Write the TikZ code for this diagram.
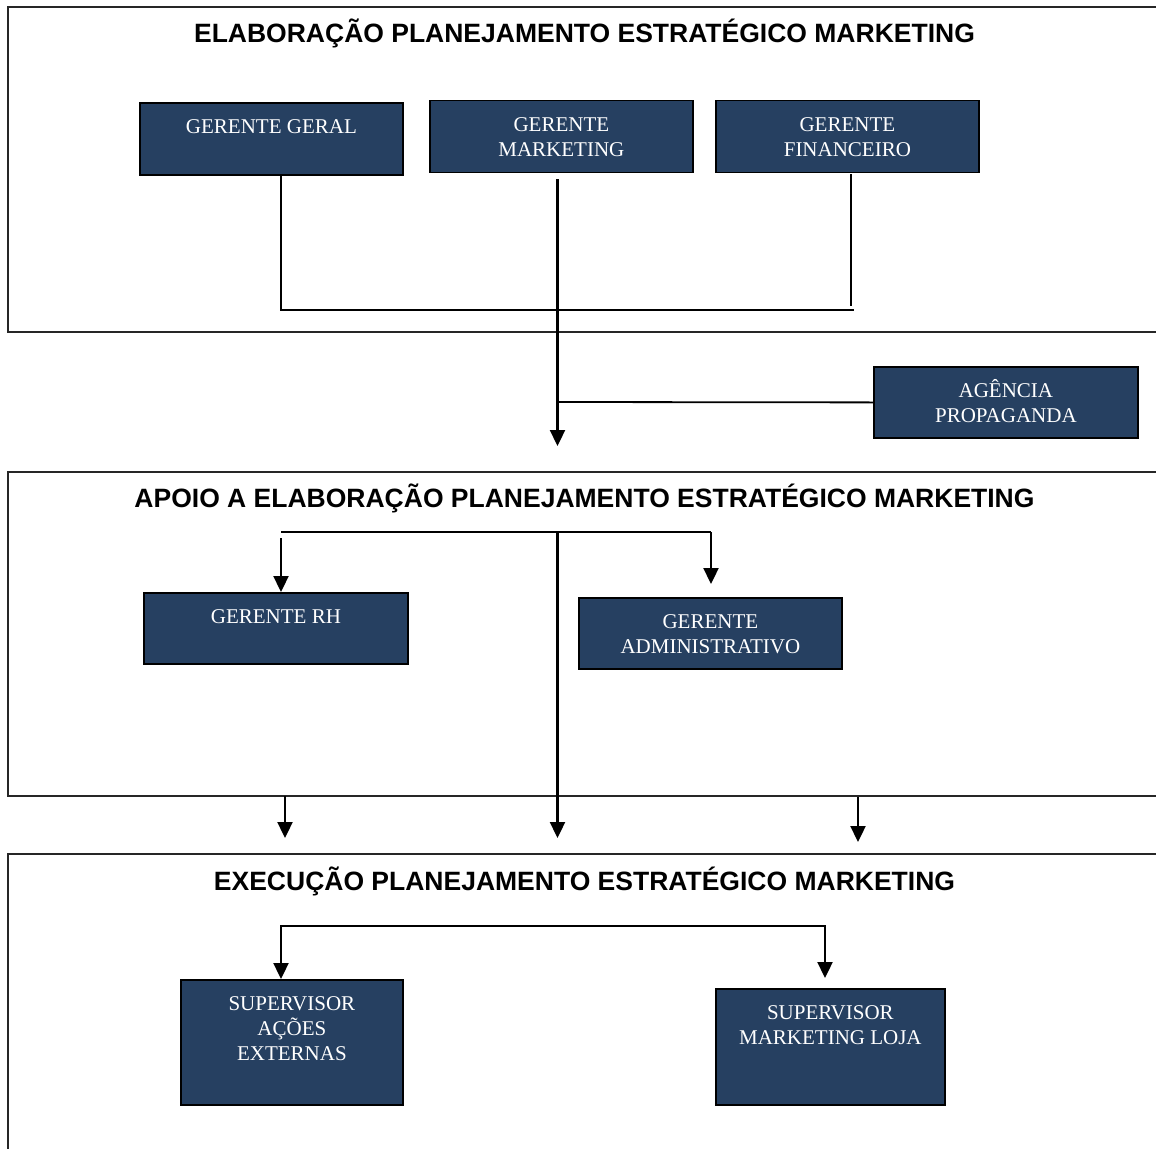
\documentclass[tikz,border=0pt]{standalone}
\usepackage{fontspec}
\setmainfont{Liberation Serif}
\newfontfamily\titlefont{Liberation Sans}
\usetikzlibrary{arrows.meta}
\definecolor{navy}{RGB}{38,64,97}
\newcommand{\boxtxt}[3]{\parbox[t][#2][t]{#1}{\centering\fontsize{21}{25}\selectfont\rule{0pt}{31pt}#3}}
\begin{document}
\begin{tikzpicture}[x=1pt,y=-1pt,
  panel/.style={draw=black!85,line width=1.7pt},
  title/.style={font={\titlefont\bfseries\fontsize{26.5}{30}\selectfont},anchor=base,inner sep=0pt},
  unit/.style={draw=black,line width=1.8pt,fill=navy,text=white,inner sep=0pt,anchor=north west},
  ln/.style={line width=1.8pt},
  arr/.style={line width=2.3pt,-{Triangle[length=16pt,width=15pt]}},
  arrtwo/.style={line width=2.3pt,{Triangle[length=16pt,width=15pt]}-{Triangle[length=16pt,width=15pt]}}]
\useasboundingbox (0,0) rectangle (1156,1148);
\fill[white] (0,0) rectangle (1156,1148);
\clip (0,0) rectangle (1156,1148);

% panels
\draw[panel] (8,7) rectangle (1170,332);
\draw[panel] (8,472) rectangle (1170,796);
\draw[panel] (8,854) rectangle (1170,1170);

% titles
\node[title] (t1) at (584.5,43) {ELABORAÇÃO PLANEJAMENTO ESTRATÉGICO MARKETING};
\node[title] (t2) at (584.5,507) {APOIO A ELABORAÇÃO PLANEJAMENTO ESTRATÉGICO MARKETING};
\node[title] (t3) at (584.5,890) {EXECUÇÃO PLANEJAMENTO ESTRATÉGICO MARKETING};

% units
\node[unit] (GG) at (139,102) {\boxtxt{263pt}{72pt}{GERENTE GERAL}};
\node[unit] (GM) at (429,99.5) {\boxtxt{263pt}{72pt}{GERENTE\\MARKETING}};
\node[unit] (GF) at (715,99.5) {\boxtxt{263pt}{72pt}{GERENTE\\FINANCEIRO}};
\node[unit] (AG) at (873,366) {\boxtxt{264pt}{71pt}{AGÊNCIA\\PROPAGANDA}};
\node[unit] (RH) at (143,592) {\boxtxt{264pt}{71pt}{GERENTE RH}};
\node[unit] (ADM) at (578,597) {\boxtxt{263pt}{71pt}{GERENTE\\ADMINISTRATIVO}};
\node[unit] (SUPA) at (180,979) {\boxtxt{222pt}{125pt}{SUPERVISOR\\AÇÕES\\EXTERNAS}};
\node[unit] (SUPL) at (715,988) {\boxtxt{229pt}{116pt}{SUPERVISOR\\MARKETING LOJA}};

% junction coordinates
\coordinate (j1L) at (281,310);
\coordinate (j1R) at (854,310);
\coordinate (fEnd) at (851,306);
\coordinate (m1) at (557.5,446);
\coordinate (agj) at (557.5,402);
\coordinate (b2L) at (281,532);
\coordinate (b2R) at (711,532);
\coordinate (rhTop) at (281,538);
\coordinate (m2Top) at (557.5,532);
\coordinate (m2) at (557.5,838);
\coordinate (dL0) at (285,796);
\coordinate (dL1) at (285,838);
\coordinate (dR0) at (858,797);
\coordinate (dR1) at (858,842);
\coordinate (k3L) at (281,926);
\coordinate (k3R) at (825,926);

% panel 1 connectors
\draw[ln] (GG.south -| j1L) -- (j1L) -- (j1R);
\draw[ln] ([yshift=-1pt]GF.south -| fEnd) -- (fEnd);
\draw[arr] ([yshift=-6pt]GM.south -| m1) -- (m1);
\draw[ln] (agj) -- (AG.west);

% panel 2 connectors
\draw[ln] (b2L) -- (b2R);
\draw[arr] (b2R) -- ([yshift=13pt]b2R |- ADM.north);
\draw[arr] (rhTop) -- (rhTop |- RH.north);
\draw[arr] (m2Top) -- (m2);
\draw[arr] (dL0) -- (dL1);
\draw[arr] (dR0) -- (dR1);

% panel 3 connectors
\draw[arrtwo] (k3L |- SUPA.north) -- (k3L) -- (k3R) -- ([yshift=10pt]k3R |- SUPL.north);
\end{tikzpicture}
\end{document}
